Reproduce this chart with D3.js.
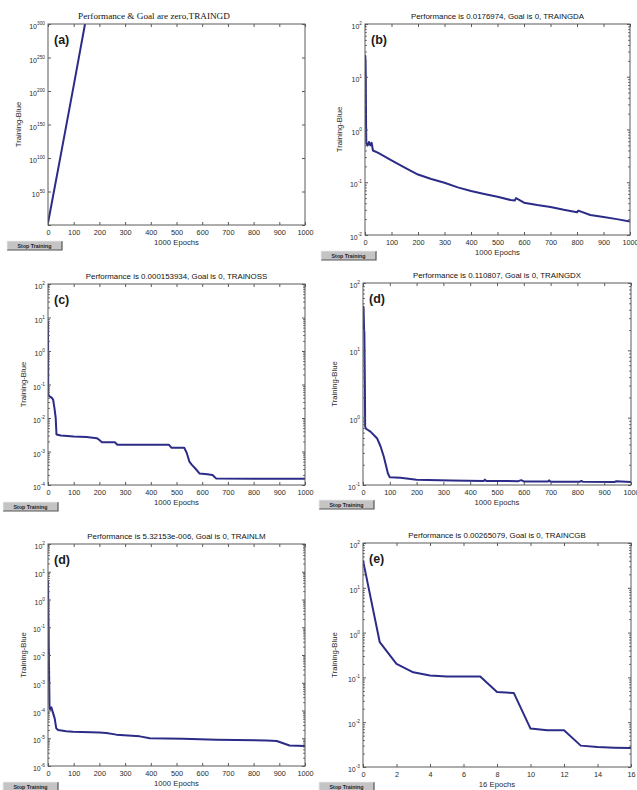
<!DOCTYPE html>
<html>
<head>
<meta charset="utf-8">
<script src="https://cdn.jsdelivr.net/npm/d3@7"></script>
<style>
	body { margin: 0; background: #fff; }
	svg { display: block; font-family: "Liberation Sans", Arial, sans-serif; }
</style>
</head>
<body>
<div id="chart"></div>
<script>
/* values */
const epochsA = [0, 50, 100, 144];
const perfA = [1e3, 1e105, 1e208, 1e300];

const epochsB = [0, 1, 2, 3, 4, 5, 10, 15, 20, 25, 30, 50, 100, 150, 200, 250, 300, 350, 400, 450, 500, 550, 565, 570, 600, 650, 700, 750, 800, 805, 850, 900, 950, 1000];
const perfB = [25, 25, 20, 9, 1.2, 0.55, 0.5, 0.58, 0.5, 0.56, 0.4, 0.36, 0.26, 0.19, 0.14, 0.115, 0.098, 0.08, 0.068, 0.06, 0.053, 0.046, 0.045, 0.05, 0.041, 0.037, 0.034, 0.03, 0.027, 0.029, 0.024, 0.022, 0.02, 0.018];

const epochsC = [0, 1, 5, 15, 20, 25, 30, 33, 50, 100, 150, 190, 200, 210, 260, 270, 470, 480, 530, 540, 550, 560, 575, 590, 620, 640, 655, 1000];
const perfC = [8, 0.05, 0.045, 0.04, 0.035, 0.02, 0.01, 0.0032, 0.003, 0.0028, 0.0027, 0.0025, 0.0022, 0.0019, 0.0019, 0.0016, 0.0016, 0.0013, 0.0013, 0.0009, 0.0005, 0.0004, 0.0003, 0.00022, 0.00021, 0.0002, 0.000155, 0.000154];

const epochsD = [0, 2, 4, 5, 7, 8, 10, 28, 53, 66, 78, 93, 100, 140, 200, 330, 450, 455, 460, 580, 590, 600, 690, 695, 700, 810, 815, 820, 940, 945, 1000];
const perfD = [44, 44, 20, 19, 3, 0.75, 0.69, 0.62, 0.49, 0.37, 0.26, 0.148, 0.13, 0.128, 0.12, 0.117, 0.115, 0.12, 0.115, 0.114, 0.118, 0.113, 0.113, 0.117, 0.112, 0.112, 0.115, 0.112, 0.111, 0.114, 0.111];

const epochsE = [0, 3, 6, 9, 13, 20, 26, 32, 39, 71, 97, 200, 227, 266, 357, 396, 526, 655, 850, 890, 940, 1000];
const perfE = [5, 0.02, 1.2e-4, 1.1e-4, 1.3e-4, 7.9e-5, 5.2e-5, 2.3e-5, 2e-5, 1.8e-5, 1.7e-5, 1.6e-5, 1.55e-5, 1.35e-5, 1.17e-5, 1.0e-5, 9.5e-6, 8.9e-6, 8.3e-6, 8.0e-6, 5.5e-6, 5.3e-6];

const epochsF = [0, 1, 2, 3, 4, 5, 6, 7, 8, 9, 10, 11, 12, 13, 14, 15, 16];
const perfF = [41, 0.61, 0.2, 0.13, 0.11, 0.105, 0.105, 0.105, 0.047, 0.045, 0.0072, 0.0066, 0.0066, 0.003, 0.0028, 0.0027, 0.00265];

const xTicks1000 = [0, 100, 200, 300, 400, 500, 600, 700, 800, 900, 1000];
const xTicks16 = [0, 2, 4, 6, 8, 10, 12, 14, 16];

const yExpA = [50, 100, 150, 200, 250, 300];
const yExpB = [-2, -1, 0, 1, 2];
const yExpC = [-4, -3, -2, -1, 0, 1, 2];
const yExpD = [-1, 0, 1, 2];
const yExpE = [-6, -5, -4, -3, -2, -1, 0, 1, 2];
const yExpF = [-3, -2, -1, 0, 1, 2];

const titles = [
	"Performance & Goal are zero,TRAINGD",
	"Performance is 0.0176974, Goal is 0, TRAINGDA",
	"Performance is 0.000153934, Goal is 0, TRAINOSS",
	"Performance is 0.110807, Goal is 0, TRAINGDX",
	"Performance is 5.32153e-006, Goal is 0, TRAINLM",
	"Performance is 0.00265079, Goal is 0, TRAINCGB"
];
const letters = ["(a)", "(b)", "(c)", "(d)", "(d)", "(e)"];
const xTitles = ["1000 Epochs", "1000 Epochs", "1000 Epochs", "1000 Epochs", "1000 Epochs", "16 Epochs"];

/* layout of each axes box: [left, top, right, bottom] */
const panels = [
	{ box: [48, 24, 305, 225], x: epochsA, y: perfA, xTicks: xTicks1000, yExp: yExpA, yRange: [0, 300], yStep: 50, ylabX: 18, btn: [7, 241], serif: true, minor: false },
	{ box: [365, 24, 630, 235], x: epochsB, y: perfB, xTicks: xTicks1000, yExp: yExpB, yRange: [-2, 2], yStep: 1, ylabX: 339, btn: [321, 251] },
	{ box: [48, 284, 305, 485], x: epochsC, y: perfC, xTicks: xTicks1000, yExp: yExpC, yRange: [-4, 2], yStep: 1, ylabX: 23, btn: [3, 502] },
	{ box: [363, 283, 631, 485], x: epochsD, y: perfD, xTicks: xTicks1000, yExp: yExpD, yRange: [-1, 2], yStep: 1, ylabX: 334, btn: [319, 500] },
	{ box: [48, 544, 305, 766], x: epochsE, y: perfE, xTicks: xTicks1000, yExp: yExpE, yRange: [-6, 2], yStep: 1, ylabX: 23, btn: [3, 782] },
	{ box: [363, 543, 631, 767], x: epochsF, y: perfF, xTicks: xTicks16, yExp: yExpF, yRange: [-3, 2], yStep: 1, ylabX: 334, btn: [319, 782] }
];

const W = 637, H = 790;
const axisColor = "#5a5a5a";
const lineColor = "#2c2c88";

const svg = d3.select("#chart").append("svg")
	.attr("width", W)
	.attr("height", H);
svg.append("rect").attr("width", W).attr("height", H).attr("fill", "#fff");

function styleAxis(sel) {
	sel.select(".domain").remove();
	sel.selectAll(".tick line").attr("stroke", axisColor);
	sel.selectAll(".tick text").attr("fill", "#2a2a2a").attr("font-size", 7.3)
		.attr("font-family", "'Liberation Sans', Arial, sans-serif");
}

panels.forEach((p, i) => {
	const [l, t, r, b] = p.box;
	const g = svg.append("g").attr("class", "panel");

	const x = d3.scaleLinear().domain(d3.extent(p.xTicks)).range([l, r]);
	const y = d3.scaleLog().domain([10 ** p.yRange[0], 10 ** p.yRange[1]]).range([b, t]);

	/* major + minor tick values */
	const major = d3.range(p.yRange[0], p.yRange[1] + 0.001, p.yStep).map(e => 10 ** e);
	const minor = [];
	if (p.minor !== false) {
		for (let e = p.yRange[0]; e < p.yRange[1]; e++) {
			for (let m = 2; m <= 9; m++) minor.push(m * 10 ** e);
		}
	}

	/* curve */
	const clipId = "clip" + i;
	g.append("clipPath").attr("id", clipId)
		.append("rect").attr("x", l).attr("y", t).attr("width", r - l).attr("height", b - t);
	const pts = p.x.map((e, k) => [e, p.y[k]]);
	g.append("path")
		.datum(pts)
		.attr("clip-path", `url(#${clipId})`)
		.attr("fill", "none")
		.attr("stroke", lineColor)
		.attr("stroke-width", 2)
		.attr("stroke-linejoin", "round")
		.attr("d", d3.line().x(d => x(d[0])).y(d => y(d[1])));

	/* axes: ticks inward on all four sides */
	g.append("g").attr("transform", `translate(0,${b})`)
		.call(d3.axisBottom(x).tickValues(p.xTicks).tickFormat(d => String(d))
			.tickSize(-3).tickSizeOuter(0).tickPadding(5))
		.call(styleAxis);
	g.append("g").attr("transform", `translate(0,${t})`)
		.call(d3.axisTop(x).tickValues(p.xTicks).tickSize(-3).tickSizeOuter(0).tickFormat(""))
		.call(styleAxis);
	g.append("g").attr("transform", `translate(${l},0)`)
		.call(d3.axisLeft(y).tickValues(major).tickSize(-3).tickSizeOuter(0).tickFormat(""))
		.call(styleAxis);
	g.append("g").attr("transform", `translate(${r},0)`)
		.call(d3.axisRight(y).tickValues(major).tickSize(-3).tickSizeOuter(0).tickFormat(""))
		.call(styleAxis);
	if (minor.length) {
		g.append("g").attr("transform", `translate(${l},0)`)
			.call(d3.axisLeft(y).tickValues(minor).tickSize(-1.8).tickSizeOuter(0).tickFormat(""))
			.call(styleAxis);
		g.append("g").attr("transform", `translate(${r},0)`)
			.call(d3.axisRight(y).tickValues(minor).tickSize(-1.8).tickSizeOuter(0).tickFormat(""))
			.call(styleAxis);
	}

	/* box */
	g.append("rect")
		.attr("x", l).attr("y", t).attr("width", r - l).attr("height", b - t)
		.attr("fill", "none").attr("stroke", axisColor).attr("stroke-width", 1);

	/* y tick labels as 10 with superscript exponent */
	p.yExp.forEach(e => {
		const txt = g.append("text")
			.attr("x", l - 3)
			.attr("y", y(10 ** e) + 5)
			.attr("text-anchor", "end")
			.attr("fill", "#2a2a2a")
			.attr("font-size", 7);
		txt.append("tspan").text("10");
		txt.append("tspan").attr("dy", -4).attr("font-size", 4.8).text(e);
	});

	/* title */
	g.append("text")
		.attr("x", i === 0 ? 154 : (l + r) / 2)
		.attr("y", t - 5)
		.attr("text-anchor", "middle")
		.attr("fill", "#111")
		.attr("font-family", p.serif ? "'Liberation Serif', 'Times New Roman', serif" : null)
		.attr("font-size", p.serif ? 9.2 : 7.9)
		.text(titles[i]);

	/* panel letter */
	g.append("text")
		.attr("x", l + 6)
		.attr("y", t + 20)
		.attr("fill", "#1a1a1a")
		.attr("font-weight", "bold")
		.attr("font-size", 12.5)
		.text(letters[i]);

	/* axis titles */
	g.append("text")
		.attr("x", (l + r) / 2)
		.attr("y", b + 20)
		.attr("text-anchor", "middle")
		.attr("fill", "#2a2a2a")
		.attr("font-size", 7.7)
		.text(xTitles[i]);
	g.append("text")
		.attr("transform", `translate(${p.ylabX},${(t + b) / 2}) rotate(-90)`)
		.attr("text-anchor", "middle")
		.attr("dy", "0.35em")
		.attr("fill", "#2a2a2a")
		.attr("font-size", 7.7)
		.text("Training-Blue");

	/* Stop Training button */
	const [bx, by] = p.btn;
	const btn = g.append("g").attr("transform", `translate(${bx},${by})`);
	btn.append("rect").attr("width", 55).attr("height", 9).attr("fill", "#c4c4c4");
	btn.append("path").attr("d", "M0,9 H55 V0").attr("fill", "none").attr("stroke", "#555").attr("stroke-width", 1.2);
	btn.append("path").attr("d", "M0,9 V0 H55").attr("fill", "none").attr("stroke", "#eee").attr("stroke-width", 0.8);
	btn.append("text")
		.attr("x", 27.5).attr("y", 6.5)
		.attr("text-anchor", "middle")
		.attr("fill", "#222")
		.attr("font-size", 5.3)
		.attr("font-weight", "bold")
		.text("Stop Training");
});
</script>
</body>
</html>
